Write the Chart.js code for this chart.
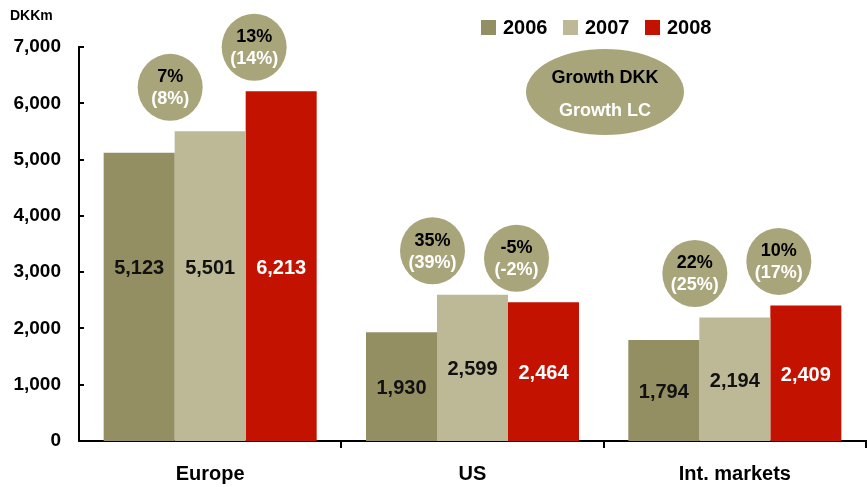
<!DOCTYPE html>
<html>
<head>
<meta charset="utf-8">
<script src="https://cdn.jsdelivr.net/npm/chart.js@4.4.1/dist/chart.umd.min.js"></script>
<style>
	body { margin: 0; background: #fff; }
	#wrap { width: 867px; height: 487px; }
</style>
</head>
<body>
<div id="wrap"><canvas id="salesChart" width="867" height="487"></canvas></div>
<script>
const regions = ['Europe', 'US', 'Int. markets'];
const years = ['2006', '2007', '2008'];
const sales2006 = [5123, 1930, 1794];
const sales2007 = [5501, 2599, 2194];
const sales2008 = [6213, 2464, 2409];
const growthDkk2007 = [7, 35, 22];
const growthLc2007 = [8, 39, 25];
const growthDkk2008 = [13, -5, 10];
const growthLc2008 = [14, -2, 17];
const yTicks = [0, 1000, 2000, 3000, 4000, 5000, 6000, 7000];

const colors = ['#938f63', '#bdb997', '#c41200'];
const bubbleColor = '#a9a57b';
const font = 'bold 20px "Liberation Sans", Arial, sans-serif';

const fmt = v => v.toLocaleString('en-US');

const overlay = {
	id: 'overlay',
	afterDraw(chart) {
		const ctx = chart.ctx;
		const area = chart.chartArea;
		const y = chart.scales.y;
		ctx.save();

		// axis ticks
		ctx.strokeStyle = '#000';
		ctx.lineWidth = 2;
		yTicks.forEach(t => {
			const py = Math.round(y.getPixelForValue(t));
			ctx.beginPath();
			ctx.moveTo(area.left, py);
			ctx.lineTo(area.left + 5, py);
			ctx.stroke();
		});
		const step = (area.right - area.left) / regions.length;
		for (let i = 1; i <= regions.length; i++) {
			const px = Math.round(area.left + step * i);
			ctx.beginPath();
			ctx.moveTo(px, area.bottom);
			ctx.lineTo(px, area.bottom + 7);
			ctx.stroke();
		}

		// unit
		ctx.fillStyle = '#000';
		ctx.font = 'bold 14px "Liberation Sans", Arial, sans-serif';
		ctx.textAlign = 'left';
		ctx.textBaseline = 'middle';
		ctx.fillText('DKKm', 10, 16);

		// value labels
		ctx.font = font;
		ctx.textAlign = 'center';
		regions.forEach((r, i) => {
			const bars = chart.data.datasets.map((d, k) => chart.getDatasetMeta(k).data[i]);
			const centers = bars.map(b => (b.y + b.base) / 2);
			const shared = i === 0 ? Math.min(...centers) : null;
			bars.forEach((b, k) => {
				ctx.fillStyle = k === 2 ? '#fff' : '#111';
				const v = chart.data.datasets[k].data[i];
				ctx.fillText(fmt(v), b.x, (shared !== null ? shared : centers[k]) + 2);
			});
		});

		// growth bubbles
		const bubble = (cx, cy, rx, ry, top, bottom, size) => {
			ctx.fillStyle = bubbleColor;
			ctx.beginPath();
			ctx.ellipse(cx, cy, rx, ry, 0, 0, Math.PI * 2);
			ctx.fill();
			ctx.font = 'bold ' + size + 'px "Liberation Sans", Arial, sans-serif';
			ctx.fillStyle = '#000';
			ctx.fillText(top, cx, cy - 10);
			ctx.fillStyle = '#fff';
			ctx.fillText(bottom, cx, cy + 12);
		};
		const groups = [[1, growthDkk2007, growthLc2007, -40], [2, growthDkk2008, growthLc2008, -27]];
		groups.forEach(([k, dkk, lc, dx]) => {
			chart.getDatasetMeta(k).data.forEach((b, i) => {
				bubble(b.x + dx, b.y - 44, 32.5, 33.5, dkk[i] + '%', '(' + lc[i] + '%)', 18);
			});
		});

		// key bubble
		ctx.fillStyle = bubbleColor;
		ctx.beginPath();
		ctx.ellipse(605, 92, 79, 43, 0, 0, Math.PI * 2);
		ctx.fill();
		ctx.font = 'bold 18px "Liberation Sans", Arial, sans-serif';
		ctx.fillStyle = '#000';
		ctx.fillText('Growth DKK', 605, 78);
		ctx.fillStyle = '#fff';
		ctx.fillText('Growth LC', 605, 111);

		// legend
		ctx.font = font;
		ctx.textAlign = 'left';
		let lx = 481;
		chart.data.datasets.forEach(d => {
			ctx.fillStyle = d.backgroundColor;
			ctx.fillRect(lx, 20, 15, 15);
			ctx.fillStyle = '#000';
			ctx.fillText(d.label, lx + 22, 28);
			lx += 82;
		});

		ctx.restore();
	}
};

new Chart(document.getElementById('salesChart'), {
	type: 'bar',
	data: {
		labels: regions,
		datasets: [
			{ label: years[0], data: sales2006, backgroundColor: colors[0] },
			{ label: years[1], data: sales2007, backgroundColor: colors[1] },
			{ label: years[2], data: sales2008, backgroundColor: colors[2] }
		]
	},
	options: {
		responsive: false,
		animation: false,
		layout: { padding: { top: 47, right: 1, left: 0, bottom: 0 } },
		datasets: { bar: { categoryPercentage: 0.812, barPercentage: 1 } },
		plugins: {
			legend: { display: false },
			tooltip: { enabled: false }
		},
		scales: {
			x: {
				grid: { display: false, drawTicks: false },
				border: { display: true, color: '#000', width: 2 },
				ticks: {
					color: '#000',
					padding: 21,
					font: { family: '"Liberation Sans", Arial, sans-serif', size: 20, weight: 'bold' }
				},
				afterFit(scale) { scale.height = 46; }
			},
			y: {
				min: 0,
				max: 7000,
				grid: { display: false, drawTicks: false },
				border: { display: true, color: '#000', width: 2 },
				ticks: {
					stepSize: 1000,
					color: '#000',
					padding: 18,
					callback: v => fmt(v),
					font: { family: '"Liberation Sans", Arial, sans-serif', size: 19, weight: 'bold' }
				},
				afterFit(scale) { scale.width = 79; }
			}
		}
	},
	plugins: [overlay]
});
</script>
</body>
</html>
